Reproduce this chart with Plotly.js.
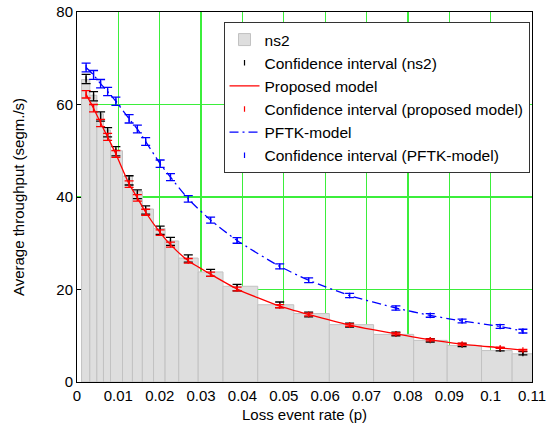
<!DOCTYPE html>
<html>
<head>
<meta charset="utf-8">
<script src="https://cdn.plot.ly/plotly-3.0.1.min.js"></script>
<style>html,body{margin:0;padding:0;background:#fff;}#chart{width:548px;height:439px;}</style>
</head>
<body>
<div id="chart"></div>
<script>
// Histogram bins (loss event rate p) and ns2 mean throughput per bin
const binEdges = [0.0011, 0.0031, 0.0048, 0.0064, 0.0081, 0.0110, 0.0134, 0.0158, 0.0185, 0.0213, 0.0246, 0.0293, 0.0353, 0.0437, 0.0524, 0.0610, 0.0717, 0.0814, 0.0895, 0.0978, 0.1052, 0.1104];
const ns2Bars = [65.4, 62.0, 58.0, 54.5, 50.0, 44.5, 41.2, 37.4, 33.2, 30.5, 26.8, 23.8, 20.7, 16.7, 14.8, 12.4, 10.3, 9.0, 7.9, 6.8, 6.1];

// Measurement points
const pValues = [0.0022, 0.0040, 0.0057, 0.0074, 0.0094, 0.0126, 0.0146, 0.0166, 0.0201, 0.0226, 0.0269, 0.0323, 0.0387, 0.0490, 0.0560, 0.0659, 0.0771, 0.0854, 0.0931, 0.1023, 0.1078];
const ns2Mean  = [65.5, 61.8, 57.4, 54.0, 49.9, 43.6, 40.6, 37.2, 32.8, 30.4, 26.7, 23.6, 20.4, 16.7, 14.6, 12.3, 10.4, 9.0, 8.0, 7.1, 6.2];
const ns2Err   = [1.0, 1.0, 1.0, 1.0, 1.0, 1.0, 0.95, 0.9, 0.9, 0.85, 0.8, 0.75, 0.7, 0.6, 0.5, 0.45, 0.4, 0.35, 0.35, 0.35, 0.35];
const propModel = [62.2, 59.2, 56.0, 53.0, 49.3, 42.8, 39.8, 36.7, 32.3, 29.7, 26.2, 23.3, 20.1, 16.4, 14.6, 12.3, 10.4, 9.1, 8.2, 7.4, 6.9];
const propErr   = [0.8, 0.8, 0.8, 0.75, 0.75, 0.7, 0.7, 0.65, 0.6, 0.55, 0.5, 0.45, 0.4, 0.35, 0.3, 0.25, 0.2, 0.2, 0.2, 0.15, 0.15];
const pftkModel = [68.0, 66.4, 64.5, 62.8, 60.7, 56.9, 54.7, 52.0, 47.2, 44.3, 39.6, 35.0, 30.6, 25.0, 22.0, 18.7, 16.0, 14.4, 13.2, 12.0, 11.0];
const pftkErr   = [0.95, 0.95, 0.9, 0.9, 0.9, 0.9, 0.85, 0.85, 0.8, 0.75, 0.7, 0.65, 0.6, 0.55, 0.5, 0.45, 0.45, 0.4, 0.4, 0.4, 0.4];

const barCenters = ns2Bars.map((_, i) => (binEdges[i] + binEdges[i + 1]) / 2);
const barWidths = ns2Bars.map((_, i) => binEdges[i + 1] - binEdges[i]);

const fam = 'Liberation Sans, Arial, sans-serif';
const font = {family: fam, size: 15, color: '#000'};

function ciTrace(name, y, err, color) {
  return {
    type: 'scatter', mode: 'markers', name: name,
    x: pValues, y: y,
    marker: {symbol: 'line-ns-open', size: 4, color: color, line: {color: color, width: 1.2}},
    error_y: {type: 'data', array: err, visible: true, color: color, thickness: 1.3, width: 4.5},
    cliponaxis: false
  };
}

const traces = [
  {type: 'bar', name: 'ns2', x: barCenters, y: ns2Bars, width: barWidths,
   marker: {color: '#dedede', line: {color: '#c2c2c2', width: 1}}},
  ciTrace('Confidence interval (ns2)', ns2Mean, ns2Err, '#000000'),
  {type: 'scatter', mode: 'lines', name: 'Proposed model', x: pValues, y: propModel,
   line: {color: '#ff0000', width: 1.3, shape: 'spline', smoothing: 0.6}},
  ciTrace('Confidence interval (proposed model)', propModel, propErr, '#ff0000'),
  {type: 'scatter', mode: 'lines', name: 'PFTK-model', x: pValues, y: pftkModel,
   line: {color: '#0000ff', width: 1.3, shape: 'spline', smoothing: 0.6, dash: '9px,4px,2px,4px'}},
  ciTrace('Confidence interval (PFTK-model)', pftkModel, pftkErr, '#0000ff')
];

const layout = {
  width: 548, height: 439,
  margin: {l: 77, r: 16, t: 12, b: 57},
  paper_bgcolor: '#fff', plot_bgcolor: '#fff',
  font: font,
  bargap: 0,
  showlegend: true,
  legend: {
    x: 0.322, y: 0.973, xanchor: 'left', yanchor: 'top',
    bgcolor: '#fff', bordercolor: '#333', borderwidth: 1,
    font: {family: fam, size: 15.5, color: '#000'},
    tracegroupgap: 0, itemwidth: 30
  },
  xaxis: {
    range: [0, 0.11], dtick: 0.01, tick0: 0,
    showgrid: true, gridcolor: '#3bee3b', gridwidth: 1.2,
    zeroline: false,
    showline: true, linecolor: '#000', linewidth: 1, mirror: true,
    ticks: 'inside', ticklen: 4, tickcolor: '#000',
    layer: 'below traces',
    tickfont: font,
    title: {text: 'Loss event rate (p)', font: font, standoff: 6}
  },
  yaxis: {
    range: [0, 80], dtick: 20, tick0: 0,
    showgrid: true, gridcolor: '#3bee3b', gridwidth: 1.2,
    zeroline: false,
    showline: true, linecolor: '#000', linewidth: 1, mirror: true,
    ticks: 'inside', ticklen: 4, tickcolor: '#000',
    layer: 'below traces',
    tickfont: font,
    title: {text: 'Average throughput (segm./s)', font: font, standoff: 28}
  }
};

Plotly.newPlot('chart', traces, layout, {displayModeBar: false, staticPlot: true});
</script>
</body>
</html>
